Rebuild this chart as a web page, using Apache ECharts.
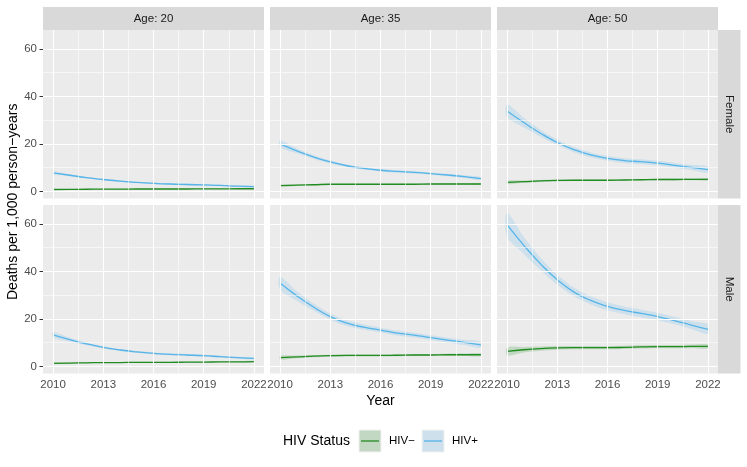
<!DOCTYPE html>
<html>
<head>
<meta charset="utf-8">
<script src="https://cdn.jsdelivr.net/npm/echarts@6/dist/echarts.min.js"></script>
<style>
html,body{margin:0;padding:0;background:#fff;}
#chart{width:747px;height:467px;}
</style>
</head>
<body>
<div id="chart"></div>
<script>
// ---- data ----
const years = [2010,2011,2012,2013,2014,2015,2016,2017,2018,2019,2020,2021,2022];
const xTicks = [2010,2013,2016,2019,2022];
const yTicks = [0,20,40,60];
const ageLabels = ['Age: 20','Age: 35','Age: 50'];
const sexLabels = ['Female','Male'];
const statusLabels = ['HIV\u2212','HIV+'];

// Female
const f20_pos    = [7.8,6.8,5.8,5.0,4.3,3.8,3.4,3.1,2.9,2.7,2.5,2.2,2.0];
const f20_pos_ci = [0.6,0.4,0.3,0.3,0.3,0.3,0.3,0.3,0.3,0.3,0.3,0.3,0.4];
const f20_neg    = [0.8,0.85,0.9,0.95,0.95,1.0,1.0,1.0,1.0,1.05,1.05,1.1,1.1];
const f20_neg_ci = [0.2,0.15,0.15,0.15,0.15,0.15,0.15,0.15,0.15,0.15,0.15,0.15,0.2];

const f35_pos    = [20.0,17.1,14.5,12.4,10.8,9.7,8.9,8.4,8.0,7.5,6.9,6.2,5.4];
const f35_pos_ci = [1.5,1.0,0.7,0.6,0.5,0.5,0.5,0.5,0.5,0.5,0.5,0.6,0.7];
const f35_neg    = [2.4,2.6,2.8,3.0,3.0,3.0,3.0,3.0,3.0,3.1,3.1,3.1,3.1];
const f35_neg_ci = [0.4,0.3,0.25,0.25,0.25,0.25,0.25,0.25,0.25,0.25,0.25,0.3,0.35];

const f50_pos    = [33.9,29.0,24.5,20.6,17.6,15.4,13.9,13.0,12.5,11.9,11.0,10.1,9.2];
const f50_pos_ci = [2.8,2.0,1.5,1.2,1.1,1.0,1.0,1.0,1.0,1.0,1.0,1.1,1.3];
const f50_neg    = [3.8,4.1,4.4,4.6,4.7,4.7,4.7,4.8,4.9,5.0,5.0,5.1,5.1];
const f50_neg_ci = [0.7,0.5,0.4,0.4,0.35,0.35,0.35,0.35,0.35,0.35,0.4,0.4,0.5];

// Male
const m20_pos    = [13.3,11.3,9.5,8.0,6.9,6.1,5.5,5.1,4.8,4.5,4.1,3.7,3.4];
const m20_pos_ci = [1.2,0.8,0.6,0.5,0.4,0.4,0.4,0.4,0.4,0.4,0.4,0.4,0.5];
const m20_neg    = [1.3,1.4,1.5,1.6,1.6,1.7,1.7,1.7,1.8,1.8,1.9,1.9,2.0];
const m20_neg_ci = [0.3,0.25,0.2,0.2,0.2,0.2,0.2,0.2,0.2,0.2,0.2,0.25,0.3];

const m35_pos    = [35.1,29.7,25.0,21.0,18.2,16.5,15.3,14.0,13.2,12.1,11.1,10.1,9.1];
const m35_pos_ci = [2.8,2.0,1.5,1.3,1.2,1.1,1.0,1.0,1.0,1.0,1.0,1.1,1.3];
const m35_neg    = [3.7,4.0,4.3,4.5,4.6,4.6,4.6,4.7,4.8,4.8,4.9,4.9,4.9];
const m35_neg_ci = [0.8,0.6,0.5,0.45,0.4,0.4,0.4,0.4,0.4,0.4,0.45,0.5,0.6];

const m50_pos    = [59.7,51.0,43.2,36.5,31.3,27.8,25.3,23.6,22.3,21.0,19.3,17.4,15.6];
const m50_pos_ci = [5.0,3.6,2.6,2.1,1.8,1.7,1.7,1.6,1.6,1.6,1.6,1.7,2.0];
const m50_neg    = [6.3,7.0,7.5,7.8,7.9,7.9,7.9,8.0,8.2,8.3,8.3,8.4,8.4];
const m50_neg_ci = [1.7,1.2,0.9,0.8,0.7,0.7,0.7,0.7,0.7,0.7,0.7,0.8,0.9];

// ---- styling / layout ----
const COL_POS = '#56B4E9', COL_NEG = '#228B22';
const BAND_POS = 'rgba(86,180,233,0.2)', BAND_NEG = 'rgba(34,139,34,0.2)';
const KEY_POS = '#CDE0EB', KEY_NEG = '#C3D8C3';
const FONT = '"Liberation Sans", Arial, Helvetica, sans-serif';
const SMOOTH = 0.5;
const colLeft = [43, 270, 497];
const panelW = 221;
const rowTop = [30, 205];
const panelH = 168.5;
const X_MIN = 2009.4, X_MAX = 2022.6, Y_MIN = -3, Y_MAX = 68;
const minorX = [2011.5, 2014.5, 2017.5, 2020.5];
const minorY = [10, 30, 50];

const panels = [
  {r:0,c:0,pos:f20_pos,posCi:f20_pos_ci,neg:f20_neg,negCi:f20_neg_ci},
  {r:0,c:1,pos:f35_pos,posCi:f35_pos_ci,neg:f35_neg,negCi:f35_neg_ci},
  {r:0,c:2,pos:f50_pos,posCi:f50_pos_ci,neg:f50_neg,negCi:f50_neg_ci},
  {r:1,c:0,pos:m20_pos,posCi:m20_pos_ci,neg:m20_neg,negCi:m20_neg_ci},
  {r:1,c:1,pos:m35_pos,posCi:m35_pos_ci,neg:m35_neg,negCi:m35_neg_ci},
  {r:1,c:2,pos:m50_pos,posCi:m50_pos_ci,neg:m50_neg,negCi:m50_neg_ci}
];

// ribbon drawn as one smoothed polygon through the axis scales
function bandRenderer(fill) {
  return function (params, api) {
    if (params.dataIndexInside !== 0) return null;
    const n = params.dataInsideLength;
    const upper = [], lower = [];
    for (let j = 0; j < n; j++) {
      const x = api.value(0, j);
      upper.push(api.coord([x, api.value(2, j)]));
      lower.push(api.coord([x, api.value(1, j)]));
    }
    const pts = upper.concat(lower.reverse());
    return {type:'polygon', shape:{points:pts, smooth:0.3},
      style:{fill:fill, stroke:'none'}, silent:true,
      clipPath:{type:'rect', shape:{x:params.coordSys.x, y:params.coordSys.y,
        width:params.coordSys.width, height:params.coordSys.height}}};
  };
}

const grid = [], xAxis = [], yAxis = [], series = [];
panels.forEach((p, i) => {
  grid.push({left: colLeft[p.c], top: rowTop[p.r], width: panelW, height: panelH,
    show: true, backgroundColor: '#EBEBEB', borderWidth: 0});
  const showX = p.r === 1, showY = p.c === 0;
  xAxis.push({type:'value', gridIndex:i, min:X_MIN, max:X_MAX,
    axisLine:{show:false}, splitLine:{show:false},
    axisTick:{show:showX, length:3.5, customValues:xTicks, lineStyle:{color:'#333333', width:1}},
    axisLabel:{show:showX, customValues:xTicks, color:'#4D4D4D', fontSize:11.5, fontFamily:FONT, margin:5,
      formatter: v => String(v)}});
  yAxis.push({type:'value', gridIndex:i, min:Y_MIN, max:Y_MAX,
    axisLine:{show:false}, splitLine:{show:false},
    axisTick:{show:showY, length:3.5, customValues:yTicks, lineStyle:{color:'#333333', width:1}},
    axisLabel:{show:showY, customValues:yTicks, color:'#4D4D4D', fontSize:11.5, fontFamily:FONT, margin:6}});

  // grid lines through the axes' scales
  const gl = [];
  xTicks.forEach(v => gl.push({xAxis:v, lineStyle:{width:1.1}}));
  minorX.forEach(v => gl.push({xAxis:v, lineStyle:{width:0.55}}));
  yTicks.forEach(v => gl.push({yAxis:v, lineStyle:{width:1.1}}));
  minorY.forEach(v => gl.push({yAxis:v, lineStyle:{width:0.55}}));
  series.push({type:'line', xAxisIndex:i, yAxisIndex:i, z:1, silent:true,
    data: years.map((y, k) => [y, p.neg[k]]), showSymbol:false, symbol:'none',
    lineStyle:{opacity:0, width:0},
    markLine:{silent:true, symbol:['none','none'], label:{show:false}, animation:false,
      emphasis:{disabled:true},
      lineStyle:{color:'#FFFFFF', type:'solid', opacity:1}, data: gl}});

  const addBand = (mean, ci, fill) => {
    series.push({type:'custom', xAxisIndex:i, yAxisIndex:i, z:2, silent:true,
      renderItem: bandRenderer(fill), encode:{x:0, y:[1,2]},
      data: years.map((y, k) => [y, mean[k] - ci[k], mean[k] + ci[k]])});
  };
  addBand(p.neg, p.negCi, BAND_NEG);
  addBand(p.pos, p.posCi, BAND_POS);

  series.push({type:'line', name:statusLabels[0], xAxisIndex:i, yAxisIndex:i, z:3, silent:true,
    smooth:SMOOTH, symbol:'none', lineStyle:{color:COL_NEG, width:1.3},
    data: years.map((y, k) => [y, p.neg[k]])});
  series.push({type:'line', name:statusLabels[1], xAxisIndex:i, yAxisIndex:i, z:3, silent:true,
    smooth:SMOOTH, symbol:'none', lineStyle:{color:COL_POS, width:1.3},
    data: years.map((y, k) => [y, p.pos[k]])});
});

// strips, axis titles, legend
const graphic = [];
ageLabels.forEach((t, c) => {
  graphic.push({type:'rect', shape:{x:colLeft[c], y:7, width:panelW, height:23}, style:{fill:'#D9D9D9'}, silent:true});
  graphic.push({type:'text', x:colLeft[c] + panelW/2, y:18.5,
    style:{text:t, fill:'#1A1A1A', font:'11.5px ' + FONT, textAlign:'center', textVerticalAlign:'middle'}, silent:true});
});
const stripX = colLeft[2] + panelW;
sexLabels.forEach((t, r) => {
  graphic.push({type:'rect', shape:{x:stripX, y:rowTop[r], width:22.5, height:panelH}, style:{fill:'#D9D9D9'}, silent:true});
  graphic.push({type:'text', x:stripX + 11.25, y:rowTop[r] + panelH/2, rotation:-Math.PI/2,
    style:{text:t, fill:'#1A1A1A', font:'11.5px ' + FONT, textAlign:'center', textVerticalAlign:'middle'}, silent:true});
});
graphic.push({type:'text', x:13, y:(rowTop[0] + rowTop[1] + panelH)/2, rotation:Math.PI/2,
  style:{text:'Deaths per 1,000 person\u2212years', fill:'#000000', font:'14px ' + FONT, textAlign:'center', textVerticalAlign:'middle'}, silent:true});
graphic.push({type:'text', x:(colLeft[0] + colLeft[2] + panelW)/2, y:401,
  style:{text:'Year', fill:'#000000', font:'14px ' + FONT, textAlign:'center', textVerticalAlign:'middle'}, silent:true});
graphic.push({type:'text', x:283, y:441,
  style:{text:'HIV Status', fill:'#000000', font:'14px ' + FONT, textAlign:'left', textVerticalAlign:'middle'}, silent:true});
const keys = [{x:359, fill:KEY_NEG, line:COL_NEG, lx:389}, {x:422, fill:KEY_POS, line:COL_POS, lx:452}];
keys.forEach((k, j) => {
  graphic.push({type:'rect', shape:{x:k.x, y:430, width:22, height:22}, style:{fill:k.fill, stroke:'#F2F2F2', lineWidth:1}, silent:true});
  graphic.push({type:'line', shape:{x1:k.x + 2, y1:441, x2:k.x + 20, y2:441}, style:{stroke:k.line, lineWidth:1.3}, silent:true});
  graphic.push({type:'text', x:k.lx, y:441,
    style:{text:statusLabels[j], fill:'#000000', font:'11.5px ' + FONT, textAlign:'left', textVerticalAlign:'middle'}, silent:true});
});

const chart = echarts.init(document.getElementById('chart'), null, {renderer:'canvas'});
chart.setOption({
  animation:false,
  backgroundColor:'#FFFFFF',
  textStyle:{fontFamily:FONT},
  grid, xAxis, yAxis, series, graphic
});
</script>
</body>
</html>
